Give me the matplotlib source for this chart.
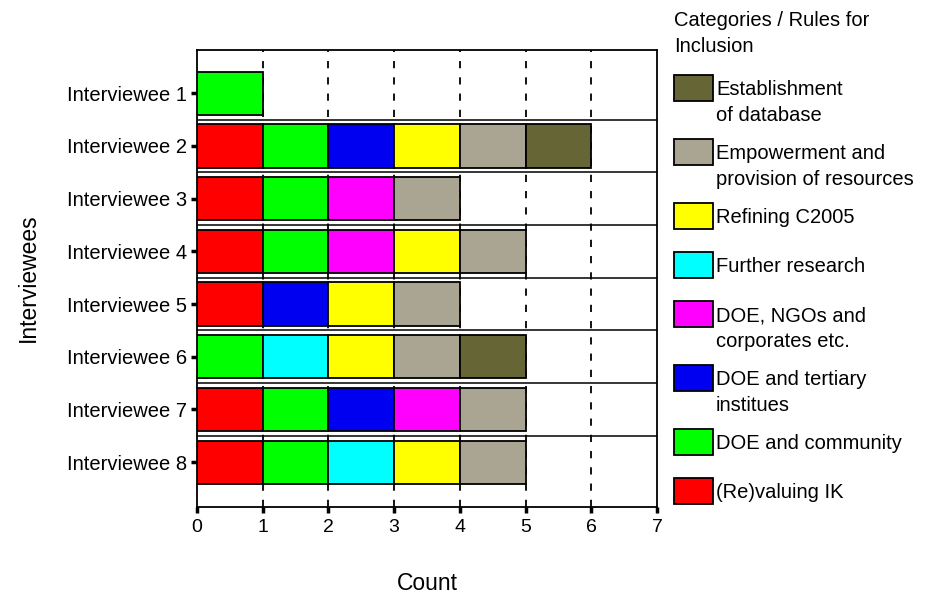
import matplotlib.pyplot as plt
import numpy as np
from matplotlib.patches import Rectangle

plt.rcParams['font.family'] = ['Liberation Sans', 'DejaVu Sans']

interviewees = ['Interviewee 1', 'Interviewee 2', 'Interviewee 3', 'Interviewee 4',
                'Interviewee 5', 'Interviewee 6', 'Interviewee 7', 'Interviewee 8']

# stacking order, left to right
categories = ['(Re)valuing IK', 'DOE and community', 'DOE and tertiary\ninstitues',
              'DOE, NGOs and\ncorporates etc.', 'Further research', 'Refining C2005',
              'Empowerment and\nprovision of resources', 'Establishment\nof database']
colors = ['#ff0000', '#00ff00', '#0000f0', '#ff00ff', '#00ffff', '#ffff00',
          '#aaa592', '#656535']

# counts per category, one value per interviewee (1..8)
revaluing_ik = [0, 1, 1, 1, 1, 0, 1, 1]
doe_community = [1, 1, 1, 1, 0, 1, 1, 1]
doe_tertiary = [0, 1, 0, 0, 1, 0, 1, 0]
doe_ngos = [0, 0, 1, 1, 0, 0, 1, 0]
further_research = [0, 0, 0, 0, 0, 1, 0, 1]
refining_c2005 = [0, 1, 0, 1, 1, 1, 0, 1]
empowerment = [0, 1, 1, 1, 1, 1, 1, 1]
database = [0, 1, 0, 0, 0, 1, 0, 0]

counts = [revaluing_ik, doe_community, doe_tertiary, doe_ngos,
          further_research, refining_c2005, empowerment, database]

W, H = 929, 603
fig = plt.figure(figsize=(W / 100, H / 100), dpi=100)
ax = fig.add_axes([197 / W, 1 - 507 / H, 460 / W, 457 / H])

y = np.arange(len(interviewees))
left = np.zeros(len(interviewees))
for cat, col, vals in zip(categories, colors, counts):
    vals = np.array(vals, dtype=float)
    m = vals > 0
    ax.barh(y[m], vals[m], left=left[m], height=0.82, color=col,
            edgecolor='black', linewidth=1.3, zorder=3)
    left += vals

# dashed vertical grid and row separators
for xv in range(1, 7):
    ax.axvline(xv, color='black', lw=1.3, ls=(0, (4, 5)), zorder=1)
for yv in y[:-1] + 0.5:
    ax.axhline(yv, color='black', lw=1.1, zorder=2)

ax.set_xlim(0, 7)
ax.set_ylim(7.85, -0.82)
ax.set_xticks(range(0, 8))
ax.set_yticks(y)
ax.set_yticklabels(interviewees)
ax.tick_params(axis='both', direction='out', length=4, width=2.5, labelsize=14.5)
ax.tick_params(axis='x', pad=5, labelsize=14)
ax.tick_params(axis='y', pad=3)
for s in ax.spines.values():
    s.set_linewidth(1.3)

fig.text(427 / W, 1 - 583 / H, 'Count', ha='center', va='center', fontsize=16.5)
fig.text(28 / W, 1 - 278 / H, 'Interviewees', ha='center', va='center',
         rotation=90, fontsize=16.5)

# legend, top entry first
fig.text(674 / W, 1 - 11 / H, 'Categories / Rules for\nInclusion', ha='left', va='top',
         fontsize=14.5, linespacing=1.45)
ytop = 75
for cat, col in list(zip(categories, colors))[::-1]:
    fig.add_artist(Rectangle((674 / W, 1 - (ytop + 26) / H), 39 / W, 26 / H,
                             transform=fig.transFigure, facecolor=col,
                             edgecolor='black', lw=1.3))
    fig.text(716 / W, 1 - (ytop + 5) / H, cat, ha='left', va='top',
             fontsize=14.5, linespacing=1.45)
    nlines = cat.count('\n') + 1
    ytop += 49 if nlines == 1 else 64

fig.savefig('out.png', dpi=100)
